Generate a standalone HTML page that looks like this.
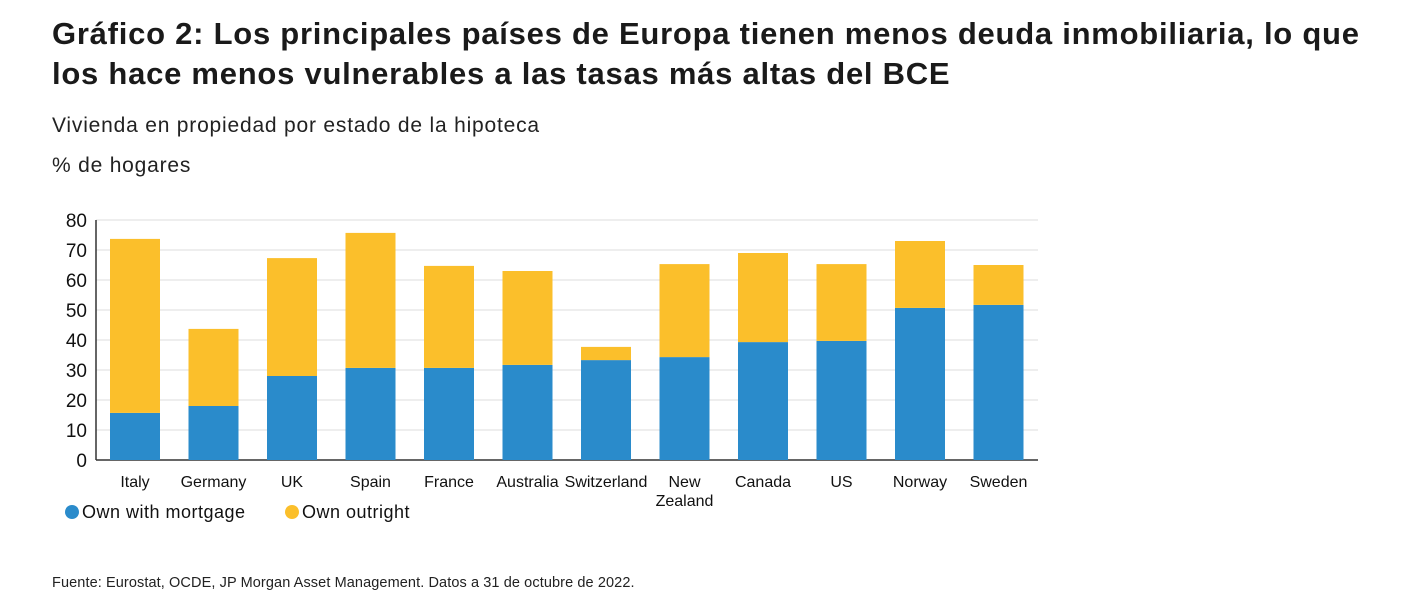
<!DOCTYPE html>
<html><head><meta charset="utf-8"><style>
body{margin:0;background:#fff;width:1423px;height:609px;overflow:hidden;font-family:"Liberation Sans",sans-serif;color:#111}
h1{position:absolute;left:52px;top:14px;margin:0;font-size:31px;font-weight:bold;line-height:40px;letter-spacing:0.75px;white-space:nowrap;color:#1a1a1a}
.t{position:absolute;left:52px;font-size:20px;color:#222;letter-spacing:0.8px}
</style></head><body>
<h1>Gráfico 2: Los principales países de Europa tienen menos deuda inmobiliaria, lo que<br>los hace menos vulnerables a las tasas más altas del BCE</h1>
<div class="t" style="top:114px;font-size:21px">Vivienda en propiedad por estado de la hipoteca</div>
<div class="t" style="top:154px;font-size:21px">% de hogares</div>
<svg id="c" width="1423" height="609" style="position:absolute;left:0;top:0"></svg>
<div style="position:absolute;left:52px;top:575px;font-size:14.5px;color:#222;letter-spacing:0.1px">Fuente: Eurostat, OCDE, JP Morgan Asset Management. Datos a 31 de octubre de 2022.</div>
<script>
const categories=["Italy","Germany","UK","Spain","France","Australia","Switzerland","New Zealand","Canada","US","Norway","Sweden"];
const mortgage=[15.7,18,28,30.7,30.7,31.7,33.3,34.3,39.3,39.7,50.7,51.7];
const total=[73.7,43.7,67.3,75.7,64.7,63,37.7,65.3,69,65.3,73,65];
const ticks=[0,10,20,30,40,50,60,70,80];
const NS="http://www.w3.org/2000/svg";
const svg=document.getElementById('c');
const x0=96,x1=1038,y0=460,y1=220;
const y=v=>y0-(v/80)*(y0-y1);
const step=78.5,bw=50;
const xc=i=>x0+14+bw/2+i*step;
function mk(t,a){const e=document.createElementNS(NS,t);for(const k in a)e.setAttribute(k,a[k]);svg.appendChild(e);return e;}
ticks.forEach(t=>{
 const g=mk('line',{x1:x0,x2:x1,y1:y(t),y2:y(t),stroke:t?'#ddd':'#333','stroke-width':t?1:1.5});
 
 
 const l=mk('text',{x:87,y:y(t)+7,'text-anchor':'end','font-size':19,fill:'#111'});l.textContent=t;
 
 
});
const ax=mk('line',{x1:x0,x2:x0,y1:y1,y2:y0,stroke:'#333','stroke-width':1.5});


categories.forEach((c,i)=>{
 const b=mk('rect',{x:xc(i)-bw/2,y:y(mortgage[i]),width:bw,height:y0-y(mortgage[i]),fill:'#2a8bcb'});
 
 
 const b2=mk('rect',{x:xc(i)-bw/2,y:y(total[i]),width:bw,height:y(mortgage[i])-y(total[i]),fill:'#fbbf2b'});
 
 
 const parts=c==="New Zealand"?["New","Zealand"]:[c];
 parts.forEach((p,j)=>{const t=mk('text',{x:xc(i),y:487+j*19,'text-anchor':'middle','font-size':16,fill:'#111'});t.textContent=p;
 
 });
});
[[72,'#2a8bcb','Own with mortgage'],[292,'#fbbf2b','Own outright']].forEach(([lx,col,txt])=>{
 const ci=mk('circle',{cx:lx,cy:512,r:7,fill:col});
 
 
 const t=mk('text',{x:lx+10,y:518,'font-size':18,fill:'#111','letter-spacing':'0.5'});t.textContent=txt;
 
 
});
</script>
</body></html>
